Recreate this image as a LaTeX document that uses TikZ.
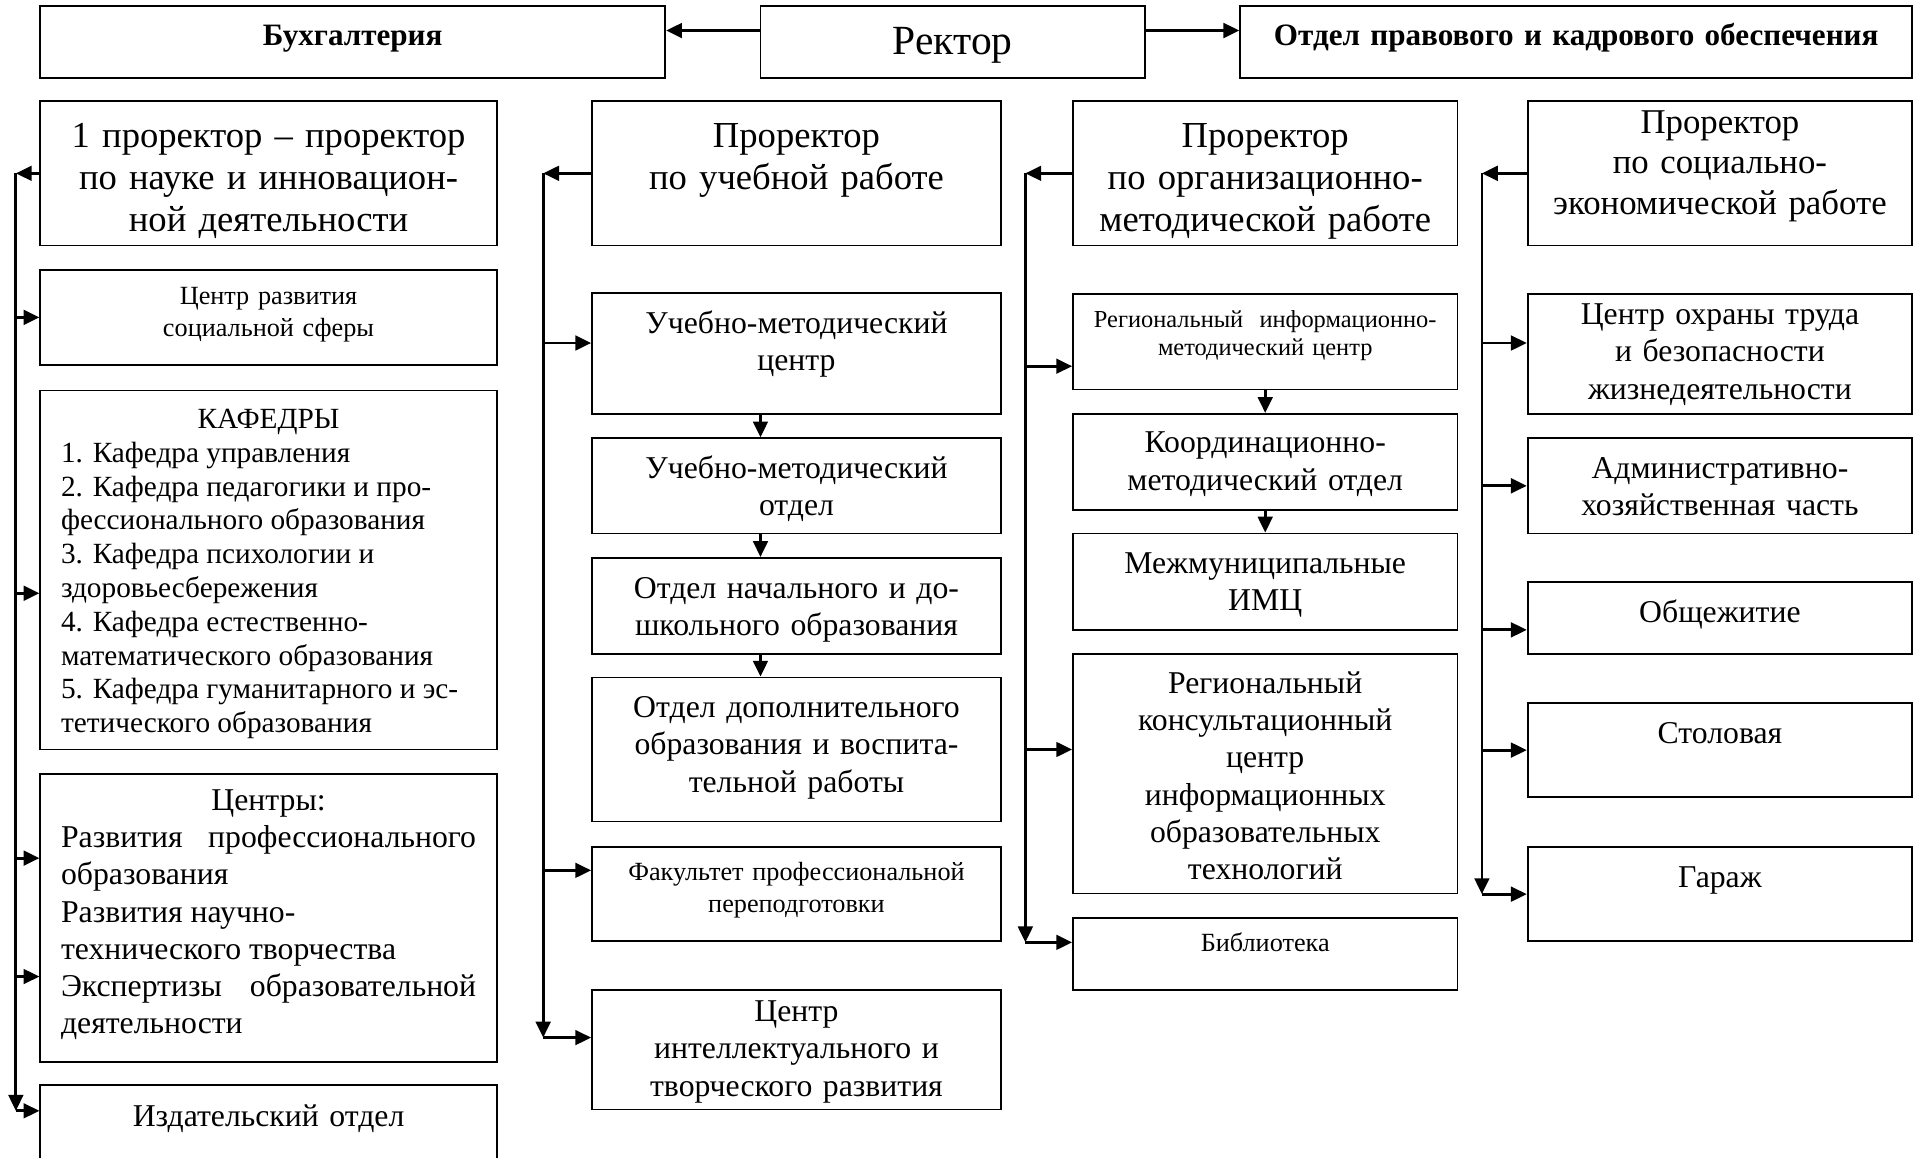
\documentclass[tikz,border=0pt]{standalone}
\usepackage{fontspec}
\setmainfont{Liberation Serif}
\usetikzlibrary{arrows.meta}
\newcommand\fbig{\fontsize{30pt}{34.5pt}\selectfont}
\newcommand\fpfour{\fontsize{28.5pt}{33pt}\selectfont}
\newcommand\fmain{\fontsize{26pt}{30.5pt}\selectfont}
\newcommand\fkaf{\fontsize{24pt}{27.7pt}\selectfont}
\newcommand\fsmall{\fontsize{21.5pt}{26pt}\selectfont}
\newcommand\fric{\fontsize{20pt}{23.5pt}\selectfont}
\newcommand\ftop{\fontsize{25.5pt}{30pt}\selectfont\bfseries}
\newcommand\frect{\fontsize{34pt}{40pt}\selectfont}
\tikzstyle{box} =[draw, line width=1.4pt, inner xsep=8pt, inner ysep=0pt,
                  align=center, font=\fmain]
\tikzstyle{link}=[line width=2.3pt, -{Triangle[length=13pt,width=12pt]}]

\begin{document}
\begin{tikzpicture}[x=1pt, y=-1pt,
    col1/.style={box, text width=358pt},
    col2/.style={box, text width=319pt},
    col3/.style={box, text width=299pt},
    col4/.style={box, text width=299pt}]
\useasboundingbox (0,0) rectangle (1568,948);

% rector and the two departments
\node[box, text width=496pt, font=\ftop, text height=32pt, text depth=27pt] (buh) at (289,34.5) {Бухгалтерия};
\node[box, text width=299pt, font=\frect, text height=40pt, text depth=19pt] (rector) at (780.5,34.5) {Ректор};
\node[box, text width=534.5pt, font=\ftop, text height=32pt, text depth=27pt] (pravo) at (1291.25,34.5) {Отдел правового и кадрового обеспечения};

% prorectors
\node[col1, font=\fbig, text height=38pt, text depth=80pt] (p1) at (220,142) {1 проректор – проректор\\по науке и инновацион-\\ной деятельности};
\node[col2, font=\fbig, text height=38pt, text depth=80pt] (p2) at (652.5,142) {Проректор\\по учебной работе};
\node[col3, font=\fbig, text height=38pt, text depth=80pt] (p3) at (1036.5,142) {Проректор\\по организационно-\\методической работе};
\node[col4, font=\fpfour, text height=26.5pt, text depth=91.5pt] (p4) at (1409,142) {Проректор\\по социально-\\экономической работе};

% column 1
\node[col1, font=\fsmall, text height=28.5pt, text depth=49.5pt] (csf) at (220,260) {Центр развития\\социальной сферы};
\node[col1, inner xsep=17pt, text width=340pt, align=justify, font=\fkaf, text height=31pt, text depth=263pt] (kaf) at (220,467)
  {\hfill КАФЕДРЫ\hfill\null\\
   1. Кафедра управления\\
   2. Кафедра педагогики и про-\\
   фессионального образования\\
   3. Кафедра психологии и\\
   здоровьесбережения\\
   4. Кафедра естественно-\\
   математического образования\\
   5. Кафедра гуманитарного и эс-\\
   тетического образования};
\node[col1, inner xsep=17pt, text width=340pt, align=justify, text height=30pt, text depth=206pt] (cent) at (220,752)
  {\hfill Центры:\hfill\null\\
   Развития\hfill профессионального\\
   образования\\
   Развития научно-\\
   технического творчества\\
   Экспертизы\hfill образовательной\\
   деятельности};
\node[col1, text height=34pt, text depth=44pt] (izd) at (220,928) {Издательский отдел};

% column 2
\node[col2, text height=33pt, text depth=66pt] (umc) at (652.5,289.5) {Учебно-методический\\центр};
\node[col2, text height=33pt, text depth=45pt] (umo) at (652.5,398) {Учебно-методический\\отдел};
\node[col2, text height=33pt, text depth=46pt] (ndo) at (652.5,496.5) {Отдел начального и до-\\школьного образования};
\node[col2, text height=33pt, text depth=85pt] (dop) at (652.5,614) {Отдел дополнительного\\образования и воспита-\\тельной работы};
\node[col2, font=\fsmall, text height=27.5pt, text depth=49.5pt] (fpp) at (652.5,732.5) {Факультет профессиональной\\переподготовки};
\node[col2, text height=26pt, text depth=72pt] (citr) at (652.5,860) {Центр\\интеллектуального и\\творческого развития};

% column 3
\node[col3, font=\fric, text height=27pt, text depth=51pt] (ric) at (1036.5,280) {Региональный\ \ информационно-\\методический центр};
\node[col3, text height=32pt, text depth=47pt] (kmo) at (1036.5,378.5) {Координационно-\\методический отдел};
\node[col3, text height=33pt, text depth=46pt] (mimc) at (1036.5,476.5) {Межмуниципальные\\ИМЦ};
\node[col3, text height=32pt, text depth=164pt] (rkc) at (1036.5,634) {Региональный\\консультационный\\центр\\информационных\\образовательных\\технологий};
\node[col3, font=\fsmall, text height=27.5pt, text depth=31.5pt] (bib) at (1036.5,781.5) {Библиотека};

% column 4
\node[col4, text height=25pt, text depth=73pt] (cot) at (1409,290) {Центр охраны труда\\и безопасности\\жизнедеятельности};
\node[col4, text height=33pt, text depth=45pt] (ahch) at (1409,398) {Административно-\\хозяйственная часть};
\node[col4, text height=33pt, text depth=26pt] (obsh) at (1409,506.5) {Общежитие};
\node[col4, text height=33pt, text depth=44pt] (stol) at (1409,614.5) {Столовая};
\node[col4, text height=33pt, text depth=44pt] (gar) at (1409,732.5) {Гараж};

% buses
\coordinate (b1) at (13,142);
\coordinate (b2) at (445,142);
\coordinate (b3) at (840,142);
\coordinate (b4) at (1214,142);

\draw[link] ([yshift=9.5pt]rector.west) -- ([yshift=9.5pt]rector.west -| buh.east);
\draw[link] ([yshift=9.5pt]rector.east) -- ([yshift=9.5pt]rector.east -| pravo.west);

\foreach \p/\b in {p1/b1, p2/b2, p3/b3, p4/b4}
    \draw[link] (\p.west) -- (\b);

\draw[link] (b1) -- ([yshift=18pt]izd.west -| b1);
\draw[link] (b2) -- ([yshift=10pt]citr.west -| b2);
\draw[link] (b3) -- ([yshift=9.5pt]bib.west -| b3);
\draw[link] (b4) -- (gar.west -| b4);

\foreach \n/\s in {csf/0, kaf/-19, cent/49, cent/-48, izd/18}
    \draw[link] ([yshift=\s pt]\n.west -| b1) -- ([yshift=\s pt]\n.west);
\foreach \n/\s in {umc/8.5, fpp/19.5, citr/10}
    \draw[link] ([yshift=\s pt]\n.west -| b2) -- ([yshift=\s pt]\n.west);
\foreach \n/\s in {ric/-20, rkc/20, bib/9.5}
    \draw[link] ([yshift=\s pt]\n.west -| b3) -- ([yshift=\s pt]\n.west);
\foreach \n/\s in {cot/9, ahch/0, obsh/-9.5, stol/0, gar/0}
    \draw[link] ([yshift=\s pt]\n.west -| b4) -- ([yshift=\s pt]\n.west);

\foreach \a/\b in {umc/umo, umo/ndo, ndo/dop}
    \draw[link] ([xshift=-29.5pt]\a.south) -- ([xshift=-29.5pt]\b.north);
\foreach \a/\b in {ric/kmo, kmo/mimc}
    \draw[link] (\a.south) -- (\b.north);
\end{tikzpicture}
\end{document}
